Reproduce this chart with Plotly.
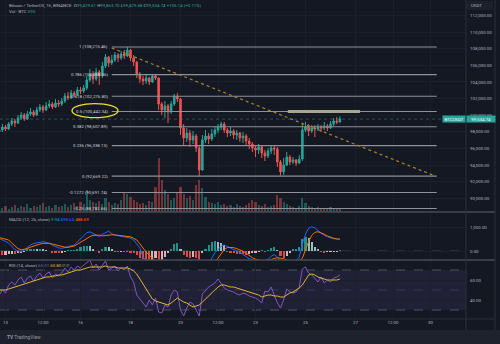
import pandas as pd
import plotly.graph_objects as go

# ---------------- data: BTC/USDT, 3h candles ----------------
first_open = 98000
closes = [98220, 98580, 98340, 98940, 99300, 99060, 99670, 100030, 99550, 100150,
          100390, 100030, 100630, 100990, 100630, 101110, 101350, 100990, 101470, 101350,
          101710, 102310, 102070, 102670, 102430, 103030, 102910, 103280, 104240, 104960,
          104360, 105200, 104720, 105920, 107010, 106280, 106650, 107250, 106890, 107370,
          107130, 107850, 106890, 106400, 104960, 104360, 104120, 104480, 104000, 104720,
          104480, 101350, 100630, 101110, 100390, 101350, 102310, 101950, 98460, 97260,
          97860, 97020, 97500, 96060, 93410, 97020, 97500, 97140, 97740, 98220,
          98580, 98940, 98220, 97860, 98100, 97620, 97860, 97260, 97500, 96900,
          96540, 96060, 95810, 96180, 95450, 95090, 95690, 96060, 95930, 94370,
          93170, 94010, 94970, 94370, 94610, 94250, 94730, 98220, 98580, 98100,
          98460, 98340, 98580, 98460, 98700, 98460, 98940, 99300, 99180, 99534.74]
highs = [98700, 98940, 98820, 99180, 99670, 99550, 100030, 100390, 100270, 100510,
         100870, 100630, 100990, 101350, 101230, 101590, 101830, 101590, 101950, 101830,
         102070, 102670, 102790, 103030, 102910, 103400, 103400, 103640, 104720, 105560,
         105320, 105680, 105440, 106400, 107370, 107130, 107250, 107610, 107490, 107730,
         107850, 108215.46, 107970, 107250, 106520, 105200, 104720, 104840, 104600, 104960,
         104960, 104480, 101590, 101710, 101350, 101710, 102550, 102670, 102070, 98940,
         98460, 98220, 98100, 97740, 96420, 97620, 98220, 97860, 98340, 98700,
         98940, 99220, 99180, 98460, 98580, 98340, 98220, 97980, 97980, 97740,
         97260, 96780, 96420, 96540, 96300, 95810, 96060, 96420, 96300, 96180,
         94610, 94850, 95570, 95210, 94970, 94730, 95210, 98940, 99180, 98940,
         98820, 98820, 98940, 98820, 99180, 98940, 99300, 99670, 99790, 99863.70]
lows = [97860, 97980, 98100, 98220, 98700, 98580, 98940, 99420, 99300, 99420,
        99910, 99790, 99910, 100390, 100270, 100510, 100870, 100750, 100870, 100990,
        101110, 101470, 101830, 101950, 102190, 102310, 102550, 102670, 103030, 104000,
        103760, 104120, 103640, 104480, 105680, 105800, 106040, 106400, 106400, 106650,
        106770, 107010, 106520, 105920, 104480, 103880, 103640, 103760, 103640, 103880,
        104240, 100630, 100030, 99670, 99060, 100150, 101110, 101590, 97620, 96420,
        96780, 96180, 96540, 95570, 92669.22, 93300, 96660, 96540, 96900, 97380,
        97860, 98220, 97860, 97380, 97500, 97140, 97020, 96780, 96660, 96300,
        95930, 95570, 94970, 95330, 94850, 94490, 94850, 95330, 95210, 93770,
        92750, 92810, 93890, 94010, 94130, 93890, 94130, 94490, 97980, 97500,
        97860, 97380, 98100, 97980, 98220, 98100, 98340, 98700, 98940, 99100]
volumes = [1000, 800, 1200, 600, 1000, 1400, 800, 1200, 1000, 1600,
           800, 1200, 1000, 1400, 1800, 1000, 1200, 800, 1400, 1000,
           1200, 1600, 1000, 1400, 1800, 1200, 2000, 1600, 4400, 2400,
           2000, 1800, 2200, 1600, 2800, 2000, 1400, 1800, 1600, 2400,
           4000, 3600, 3000, 2400, 2000, 1600, 1800, 1400, 2200, 2000,
           5000, 10800, 6400, 4400, 3600, 2400, 2800, 4000, 5000, 3600,
           2800, 3200, 2400, 5400, 6400, 4800, 3000, 2000, 1800, 1600,
           2000, 1400, 1600, 1200, 1400, 1000, 1600, 1200, 1000, 1400,
           1800, 2400, 2000, 1400, 1200, 1600, 1000, 1200, 1400, 3400,
           2800, 2000, 1600, 1200, 1000, 800, 1200, 2800, 1800, 1200,
           1000, 800, 1000, 800, 600, 800, 1000, 800, 600, 595]

# MACD (12, 26, close)
macd_line = [520, 470, 400, 330, 200, 60, 0, -30, 40, 160,
             250, 310, 340, 380, 390, 360, 320, 240, 180, 130,
             110, 140, 180, 210, 250, 380, 520, 650, 760, 800,
             720, 670, 600, 700, 760, 830, 720, 660, 640, 620,
             600, 580, 540, 460, 300, 120, -240, -450, -600, -700,
             -720, -950, -1050, -1000, -900, -720, -500, -420, -600, -850,
             -1000, -1100, -1150, -1250, -1400, -1150, -850, -550, -300, -80,
             80, 200, 250, 180, 120, 60, 0, -60, -130, -230,
             -330, -380, -400, -410, -390, -420, -350, -220, -150, -250,
             -500, -620, -580, -520, -450, -400, -250, 300, 700, 950,
             1010, 960, 850, 740, 650, 590, 540, 510, 500, 498.64]
signal_line = [560, 530, 500, 460, 330, 200, 100, 50, 60, 100,
               160, 210, 250, 290, 320, 325, 320, 290, 250, 210,
               180, 160, 150, 170, 210, 280, 360, 450, 540, 600,
               650, 670, 660, 630, 650, 670, 675, 670, 660, 640,
               625, 610, 590, 530, 460, 300, 110, -50, -180, -320,
               -420, -550, -670, -750, -800, -820, -800, -740, -680, -700,
               -750, -820, -900, -950, -1020, -1050, -950, -800, -680, -480,
               -300, -120, 60, 150, 160, 140, 100, 50, -10, -90,
               -190, -280, -340, -390, -410, -390, -390, -360, -310, -280,
               -300, -320, -380, -420, -480, -450, -400, -300, 100, 400,
               650, 780, 800, 760, 700, 630, 570, 530, 505, 488.69]
macd_hist = [-150, -180, -160, -130, -130, -140, -100, -80, -20, 60,
             90, 100, 90, 90, 70, 35, 0, -50, -70, -80,
             -70, -20, 30, 40, 40, 100, 160, 200, 220, 200,
             70, 0, -60, 70, 180, 150, 50, -10, -20, -20,
             -25, -30, -50, -70, -160, -280, -350, -400, -420, -380,
             -300, -400, -380, -250, -100, 100, 300, 320, 80, -150,
             -250, -280, -250, -300, -380, -100, 100, 250, 380, 400,
             380, 330, 250, -30, -60, -90, -110, -120, -130, -150,
             -140, -100, -60, -20, 20, -30, 40, 140, 160, 30,
             -200, -300, -200, -100, 60, 100, 180, 500, 600, 550,
             360, 180, 50, -20, -50, -40, -30, -20, -5, 9.94]

# RSI (14, close) and its moving average
rsi_line = [45, 50, 47, 55, 58, 55, 60, 63, 57, 62,
            64, 59, 64, 67, 62, 66, 68, 62, 66, 64,
            67, 72, 68, 73, 70, 74, 72, 75, 78, 80,
            72, 76, 70, 75, 79, 70, 72, 74, 69, 72,
            70, 74, 63, 58, 45, 41, 38, 33, 40, 35,
            42, 28, 27, 35, 33, 45, 50, 48, 30, 24,
            32, 38, 36, 30, 24, 46, 50, 53, 55, 57,
            61, 57, 52, 50, 49, 48, 46, 45, 47, 46,
            44, 43, 42, 40, 37, 49, 48, 53, 44, 37,
            32, 40, 51, 48, 47, 48, 53, 71, 73, 67,
            65, 62, 58, 63, 57, 60, 58, 62, 63, 65.01]
rsi_ma = [50, 50, 50, 51, 52, 53, 54, 55, 56, 57,
          58, 59, 60, 61, 62, 63, 63, 64, 64, 65,
          65, 66, 67, 68, 69, 70, 70, 71, 72, 73,
          73, 73, 73, 73, 74, 73, 73, 73, 72, 72,
          72, 72, 71, 69, 66, 61, 55, 50, 45, 41,
          39, 38, 37, 36, 35, 37, 40, 42, 40, 38,
          37, 35, 33, 34, 35, 38, 41, 45, 48, 51,
          53, 55, 55, 54, 53, 53, 52, 51, 50, 49,
          48, 47, 46, 45, 43, 44, 45, 45, 44, 44,
          43, 43, 45, 47, 48, 50, 52, 55, 60, 65,
          66, 65, 63, 62, 61, 60, 60, 60, 60, 60.80]

# Fibonacci retracement drawn from the 17 Dec high to the 20 Dec low
fib_ratios = ["1", "0.786", "0.618", "0.5", "0.382", "0.236", "0", "-0.1272", "-0.25"]
fib_prices = [108215.46, 104888.56, 102276.80, 100442.34, 98607.89, 96338.13,
              92669.22, 90691.74, 88782.66]
fib_start, fib_end = "2024-12-17 06:00", "2024-12-30 06:00"

# dotted down-trend line and highlighted level
trend_pts = [("2024-12-17 06:00", 108090), ("2024-12-30 04:20", 92690)]
zone_span = ("2024-12-24 07:00", "2024-12-27 04:20")
zone_price = 100442.34
ring_box = ("2024-12-15 15:50", "2024-12-17 12:00", 99700, 101400)

# axes
price_ticks = [90000, 92000, 94000, 96000, 98000, 100000, 102000, 104000,
               106000, 108000, 110000, 112000]
macd_ticks = [0, 1000]
rsi_ticks = [40, 60]
time_ticks = ["2024-12-13", "2024-12-14 12:00", "2024-12-16", "2024-12-18",
              "2024-12-20", "2024-12-21 12:00", "2024-12-23", "2024-12-25",
              "2024-12-27", "2024-12-28 12:00", "2024-12-30"]
time_labels = ["13", "12:00", "16", "18", "20", "12:00", "23", "25", "27", "12:00", "30"]
x_range = ["2024-12-12 18:43", "2024-12-31 10:05"]

last_price = closes[-1]

# ---------------- styling ----------------
BG = "#141823"
GRID = "#1b1f2a"
TXT = "#b2b5be"
UP, DOWN = "#26a69a", "#ef5350"
FONT = "Roboto"
FS = 4.4

times = pd.date_range("2024-12-12 18:00", periods=len(closes), freq="3h")
opens = [first_open] + closes[:-1]
vol_colors = ["rgba(38,166,154,0.45)" if c >= o else "rgba(239,83,80,0.45)"
              for o, c in zip(opens, closes)]

hist_colors = []
prev = 0
for h in macd_hist:
    if h >= 0:
        hist_colors.append("#26a69a" if h >= prev else "#b2dfdb")
    else:
        hist_colors.append("#ffcdd2" if h >= prev else "#ff5252")
    prev = h

bar_w = 3 * 3600 * 1000 * 0.7

fig = go.Figure()

fig.add_trace(go.Bar(x=times, y=volumes, marker=dict(color=vol_colors, line_width=0),
                     width=bar_w, xaxis="x", yaxis="y4"))
fig.add_trace(go.Candlestick(
    x=times, open=opens, high=highs, low=lows, close=closes,
    increasing=dict(line=dict(color=UP, width=1), fillcolor=UP),
    decreasing=dict(line=dict(color=DOWN, width=1), fillcolor=DOWN),
    whiskerwidth=0, xaxis="x", yaxis="y"))

fig.add_trace(go.Bar(x=times, y=macd_hist, marker=dict(color=hist_colors, line_width=0),
                     opacity=0.85, width=bar_w, xaxis="x2", yaxis="y2"))
fig.add_trace(go.Scatter(x=times, y=macd_line, mode="lines",
                         line=dict(color="#2962ff", width=1), xaxis="x2", yaxis="y2"))
fig.add_trace(go.Scatter(x=times, y=signal_line, mode="lines",
                         line=dict(color="#ff6d00", width=1), xaxis="x2", yaxis="y2"))

fig.add_trace(go.Scatter(x=times, y=rsi_line, mode="lines",
                         line=dict(color="#7e57c2", width=1), xaxis="x3", yaxis="y3"))
fig.add_trace(go.Scatter(x=times, y=rsi_ma, mode="lines",
                         line=dict(color="#e0b53a", width=1), xaxis="x3", yaxis="y3"))

XD = [0, 0.932]
main_dom = [1 - 212 / 344, 1]
macd_dom = [1 - 260 / 344, 1 - 212 / 344]
rsi_dom = [1 - 319 / 344, 1 - 260 / 344]

def xax(anchor, labels):
    return dict(domain=XD, anchor=anchor, type="date", range=x_range,
                tickvals=time_ticks, ticktext=time_labels, showticklabels=labels,
                showgrid=True, gridcolor=GRID, gridwidth=1, zeroline=False,
                showline=False, ticks="", tickfont=dict(size=FS, color=TXT, family=FONT),
                rangeslider=dict(visible=False), fixedrange=True)

def yax(dom, anchor, rng, ticks, fmt=",.2f"):
    return dict(domain=dom, anchor=anchor, range=rng, side="right", tickvals=ticks,
                tickformat=fmt, showgrid=True, gridcolor=GRID, zeroline=False,
                showline=False, ticks="", ticklabelstandoff=3,
                tickfont=dict(size=FS, color=TXT, family=FONT))

shapes = []
# footer strip and price-axis header
shapes.append(dict(type="rect", xref="paper", yref="paper", x0=0, x1=1, y0=0, y1=1 - 330 / 344,
                   fillcolor="#1e222d", line_width=0, layer="below"))
shapes.append(dict(type="rect", xref="paper", yref="paper", x0=0.934, x1=0.986,
                   y0=1 - 10 / 344, y1=1 - 1 / 344, fillcolor="#1c202b", line_width=0))
# RSI band and guide lines
shapes.append(dict(type="rect", xref="paper", yref="y3", x0=0, x1=0.932, y0=30, y1=70,
                   fillcolor="rgba(126,87,194,0.12)", line_width=0, layer="below"))
for lvl, col in [(70, "#5d606b"), (50, "#3e414c"), (30, "#5d606b")]:
    shapes.append(dict(type="line", xref="paper", yref="y3", x0=0, x1=0.932, y0=lvl, y1=lvl,
                       line=dict(color=col, width=0.8, dash="dash"), layer="below"))
shapes.append(dict(type="line", xref="paper", yref="y2", x0=0, x1=0.932, y0=0, y1=0,
                   line=dict(color="#4a4d58", width=0.8, dash="dash"), layer="below"))
# last price line
shapes.append(dict(type="line", xref="paper", yref="y", x0=0, x1=0.932,
                   y0=last_price, y1=last_price,
                   line=dict(color="rgba(38,166,154,0.55)", width=0.8, dash="dot")))
# fibonacci levels
for p in fib_prices:
    shapes.append(dict(type="line", xref="x", yref="y", x0=fib_start, x1=fib_end, y0=p, y1=p,
                       line=dict(color="#8e919a", width=1.1)))
# trend line
shapes.append(dict(type="line", xref="x", yref="y",
                   x0=trend_pts[0][0], y0=trend_pts[0][1], x1=trend_pts[1][0], y1=trend_pts[1][1],
                   line=dict(color="#a8862f", width=1.2, dash="dot")))
# highlighted level
shapes.append(dict(type="line", xref="x", yref="y", x0=zone_span[0], x1=zone_span[1],
                   y0=zone_price, y1=zone_price, line=dict(color="#a9a78c", width=3)))
# ring around the 0.5 label
shapes.append(dict(type="circle", xref="x", yref="y", x0=ring_box[0], x1=ring_box[1],
                   y0=ring_box[2], y1=ring_box[3], line=dict(color="#f2dc2a", width=1.3)))
# pane separators
for yy in [212, 260]:
    shapes.append(dict(type="line", xref="paper", yref="paper", x0=0, x1=0.99,
                       y0=1 - yy / 344, y1=1 - yy / 344, line=dict(color="#484b56", width=1.5)))
shapes.append(dict(type="line", xref="paper", yref="paper", x0=0, x1=0.99,
                   y0=1 - 319 / 344, y1=1 - 319 / 344, line=dict(color="#2a2e39", width=1)))
for xx in [0.932, 0.99]:
    shapes.append(dict(type="line", xref="paper", yref="paper", x0=xx, x1=xx,
                       y0=1 - 330 / 344, y1=1, line=dict(color="#2a2e39", width=1)))

ann = []
G = TXT
def span(t, c):
    return f"<span style='color:{c}'>{t}</span>"

ann.append(dict(xref="paper", yref="paper", x=0.014, y=1 - 5 / 344, xanchor="left", yanchor="middle",
                showarrow=False, font=dict(size=FS, color=G, family=FONT),
                text="Bitcoin / TetherUS, 1h, BINANCE  O" + span("99,429.61", UP) + " H" +
                     span("99,863.70", UP) + " L" + span("99,429.68", UP) + " C" +
                     span("99,534.74", UP) + " " + span("+105.14 (+0.11%)", UP)))
ann.append(dict(xref="paper", yref="paper", x=0.014, y=1 - 11 / 344, xanchor="left", yanchor="middle",
                showarrow=False, font=dict(size=FS, color=G, family=FONT),
                text="Vol · BTC " + span("595", UP)))
ann.append(dict(xref="paper", yref="paper", x=0.014, y=1 - 219 / 344, xanchor="left", yanchor="middle",
                showarrow=False, font=dict(size=FS, color=G, family=FONT),
                text="MACD (12, 26, close) " + span("9.94", UP) + " " + span("498.64", "#2962ff") +
                     " " + span("488.69", "#ff6d00")))
ann.append(dict(xref="paper", yref="paper", x=0.014, y=1 - 265 / 344, xanchor="left", yanchor="middle",
                showarrow=False, font=dict(size=FS, color=G, family=FONT),
                text="RSI (14, close) " + span("65.01", "#7e57c2") + " " + span("60.80", "#e0b53a") +
                     " ∅ ∅"))
for r, p in zip(fib_ratios, fib_prices):
    ann.append(dict(xref="x", yref="y", x=fib_start, y=p, xanchor="right", yanchor="middle",
                    xshift=-2, showarrow=False, font=dict(size=FS, color="#d1d4dc", family=FONT),
                    text=f"{r} ({p:,.2f})"))
ann.append(dict(xref="paper", yref="y", x=0.932, y=last_price, xanchor="left", yanchor="middle",
                showarrow=False, bgcolor=UP, borderpad=0.6, width=27,
                font=dict(size=FS, color="white", family=FONT), text=f"{last_price:,.2f}"))
ann.append(dict(xref="paper", yref="y", x=0.932, y=last_price, xanchor="right", yanchor="middle",
                showarrow=False, bgcolor=UP, borderpad=0.6, width=21,
                font=dict(size=FS, color="white", family=FONT), text="BTCUSDT"))
ann.append(dict(xref="paper", yref="paper", x=0.938, y=1 - 5.5 / 344, xanchor="left", yanchor="middle",
                showarrow=False, font=dict(size=FS, color=TXT, family=FONT), text="USDT"))
ann.append(dict(xref="paper", yref="paper", x=0.01, y=1 - 337 / 344, xanchor="left", yanchor="middle",
                showarrow=False, font=dict(size=4.8, color="#9598a1", family=FONT),
                text="<b>TV</b> TradingView"))

fig.update_layout(
    width=500, height=344, margin=dict(l=0, r=0, t=0, b=0),
    paper_bgcolor=BG, plot_bgcolor=BG, showlegend=False, hovermode=False,
    bargap=0,
    xaxis=xax("y", False), xaxis2=dict(xax("y2", False), matches="x"),
    xaxis3=dict(xax("y3", True), matches="x"),
    yaxis=yax(main_dom, "x", [88354, 113865], price_ticks),
    yaxis2=yax(macd_dom, "x2", [-375, 1625], macd_ticks),
    yaxis3=yax(rsi_dom, "x3", [21, 80], rsi_ticks),
    yaxis4=dict(overlaying="y", anchor="x", range=[0, 42400], visible=False, fixedrange=True),
    shapes=shapes, annotations=ann,
)

fig.write_html("out.html")
